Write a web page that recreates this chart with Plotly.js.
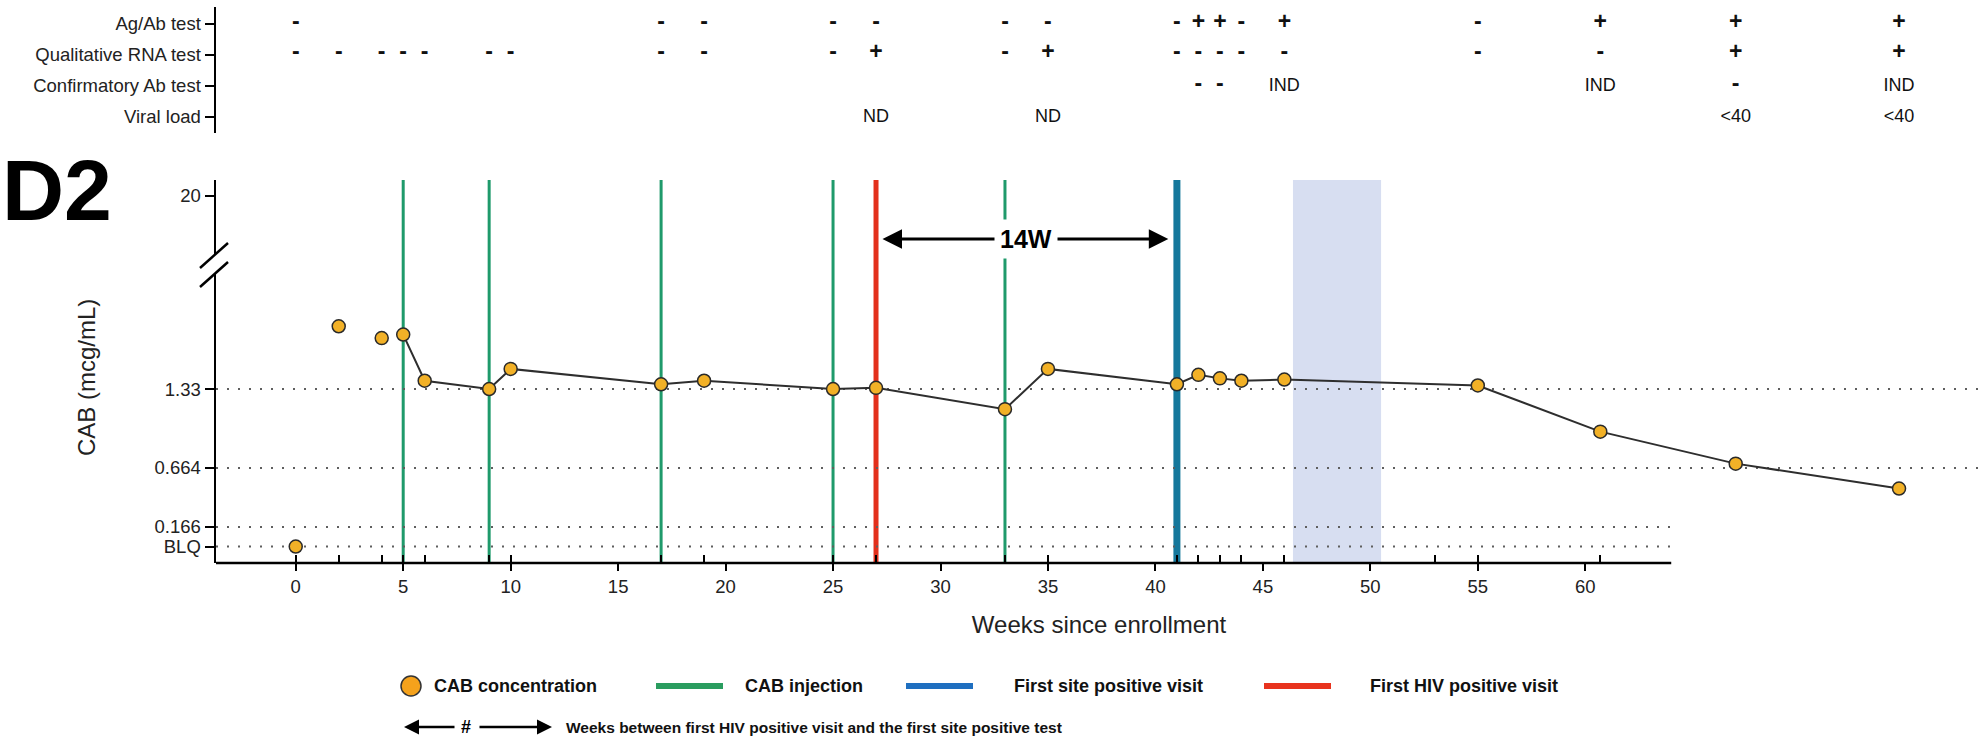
<!DOCTYPE html>
<html><head><meta charset="utf-8">
<script src="https://cdn.plot.ly/plotly-3.0.1.min.js"></script>
<style>html,body{margin:0;padding:0;background:#fff;}#chart{width:1982px;height:739px;}</style>
</head><body><div id="chart"></div>
<script>
// ---------- data ----------
const lineWeeks = [5, 6, 9, 10, 17, 19, 25, 27, 33, 35, 41, 42, 43, 44, 46, 55, 60.7, 67, 74.6];
const lineCab   = [1.79, 1.40, 1.33, 1.50, 1.37, 1.40, 1.33, 1.34, 1.16, 1.50, 1.37, 1.45, 1.42, 1.40, 1.41, 1.36, 0.97, 0.70, 0.49];
const earlyWeeks = [0, 2, 4];
const earlyCab   = [0, 1.86, 1.76];           // 0 = BLQ
const injectionWeeks = [5, 9, 17, 25, 33];
const firstHivPositiveWeek = 27;
const firstSitePositiveWeek = 41;
const gapLabel = '14W';
const shadedWeeks = [46.4, 50.5];
const visitWeeks = [0, 2, 4, 5, 6, 9, 10, 17, 19, 25, 27, 33, 35, 41, 42, 43, 44, 46, 53, 55, 60.7];
const xTickVals = [0, 5, 10, 15, 20, 25, 30, 35, 40, 45, 50, 55, 60];
const yTickVals = [0, 0.166, 0.664, 1.33];
const yTickText = ['BLQ', '0.166', '0.664', '1.33'];
const breakTickText = '20';
const longRefLevels = [1.33, 0.664];
const shortRefLevels = [0.166, 0];

const testRows = ['Ag/Ab test', 'Qualitative RNA test', 'Confirmatory Ab test', 'Viral load'];
const agAbWeeks   = [0, 17, 19, 25, 27, 33, 35, 41, 42, 43, 44, 46, 55, 60.7, 67, 74.6];
const agAbResults = ['-', '-', '-', '-', '-', '-', '-', '-', '+', '+', '-', '+', '-', '+', '+', '+'];
const rnaWeeks   = [0, 2, 4, 5, 6, 9, 10, 17, 19, 25, 27, 33, 35, 41, 42, 43, 44, 46, 55, 60.7, 67, 74.6];
const rnaResults = ['-', '-', '-', '-', '-', '-', '-', '-', '-', '-', '+', '-', '+', '-', '-', '-', '-', '-', '-', '-', '+', '+'];
const confWeeks   = [42, 43, 46, 60.7, 67, 74.6];
const confResults = ['-', '-', 'IND', 'IND', '-', 'IND'];
const vlWeeks   = [27, 35, 67, 74.6];
const vlResults = ['ND', 'ND', '&lt;40', '&lt;40'];

// ---------- layout geometry ----------
const W = 1982, H = 739;
const M = {l: 216, r: 0, t: 7, b: 176};
const plotW = W - M.l - M.r, plotH = H - M.t - M.b;
const px = x => (x - M.l) / plotW;
const py = y => (H - M.b - y) / plotH;
const xRange = [-3.71, 78.46];
const axisEndWeek = 64;
const yRange = [-0.139, 3.095];
const breakPos = 2.96;
const mainDomain = [0, py(180)];
const tableDomain = [py(133), 1];

const FONT = 'Liberation Sans, Arial, Helvetica, sans-serif';
const GREEN = '#1f9a6b', RED = '#e3301c', TEAL = '#15789c';
const MARK = {size: 13, color: '#f2b127', line: {color: '#2a2a2a', width: 1.5}};

function fmt(arr){ return arr.map(t => (t === '+' || t === '-') ? '<b><span style="font-size:23px">' + t + '</span></b>' : t); }
function tableTrace(weeks, results, row){
  return {x: weeks, y: weeks.map(() => row), text: fmt(results), mode: 'text',
    type: 'scatter', xaxis: 'x', yaxis: 'y2', textposition: 'middle center', cliponaxis: false,
    textfont: {family: FONT, size: 18, color: '#111'}, hoverinfo: 'skip', showlegend: false};
}

const traces = [
  {x: lineWeeks, y: lineCab, type: 'scatter', mode: 'lines+markers', line: {color: '#2e2e2e', width: 2},
   marker: MARK, cliponaxis: false, showlegend: false, name: 'CAB concentration'},
  {x: earlyWeeks, y: earlyCab, type: 'scatter', mode: 'markers', marker: MARK, cliponaxis: false,
   showlegend: false, name: 'CAB concentration'},
  {x: [visitWeeks[0]], y: [null], xaxis: 'x2', yaxis: 'y', type: 'scatter', mode: 'markers',
   hoverinfo: 'skip', showlegend: false},
  tableTrace(agAbWeeks, agAbResults, testRows[0]),
  tableTrace(rnaWeeks, rnaResults, testRows[1]),
  tableTrace(confWeeks, confResults, testRows[2]),
  tableTrace(vlWeeks, vlResults, testRows[3])
];

const shapes = [];
shapes.push({type: 'rect', xref: 'x', yref: 'y domain', x0: shadedWeeks[0], x1: shadedWeeks[1], y0: 0, y1: 1,
  fillcolor: '#d7def1', line: {width: 0}, layer: 'below'});
longRefLevels.forEach(v => shapes.push({type: 'line', xref: 'x', yref: 'y', x0: xRange[0], x1: xRange[1], y0: v, y1: v,
  line: {color: '#5e5e5e', width: 2, dash: '2px,9px'}, layer: 'below'}));
shortRefLevels.forEach(v => shapes.push({type: 'line', xref: 'x', yref: 'y', x0: xRange[0], x1: axisEndWeek, y0: v, y1: v,
  line: {color: '#5e5e5e', width: 2, dash: '2px,9px'}, layer: 'below'}));
injectionWeeks.forEach(w => shapes.push({type: 'line', xref: 'x', yref: 'y domain', x0: w, x1: w, y0: 0, y1: 1,
  line: {color: GREEN, width: 3}, layer: 'below'}));
shapes.push({type: 'line', xref: 'x', yref: 'y domain', x0: firstHivPositiveWeek, x1: firstHivPositiveWeek, y0: 0, y1: 1,
  line: {color: RED, width: 5}, layer: 'below'});
shapes.push({type: 'line', xref: 'x', yref: 'y domain', x0: firstSitePositiveWeek, x1: firstSitePositiveWeek, y0: 0, y1: 1,
  line: {color: TEAL, width: 7}, layer: 'below'});
// x axis line (ends at week 64)
shapes.push({type: 'line', xref: 'x', yref: 'y domain', x0: xRange[0], x1: axisEndWeek, y0: 0, y1: 0,
  line: {color: '#000', width: 2.5}, layer: 'above'});
// axis break
shapes.push({type: 'path', xref: 'paper', yref: 'paper',
  path: `M ${px(199)} ${py(268)} L ${px(229)} ${py(243)} L ${px(229)} ${py(262)} L ${px(199)} ${py(287)} Z`,
  fillcolor: '#fff', line: {width: 0}, layer: 'above'});
[[268, 243], [287, 262]].forEach(s => shapes.push({type: 'line', xref: 'paper', yref: 'paper',
  x0: px(200), y0: py(s[0]), x1: px(228), y1: py(s[1]), line: {color: '#000', width: 2.5}, layer: 'above'}));
// legend symbols
const legY = 686;
shapes.push({type: 'circle', xref: 'paper', yref: 'paper', x0: px(401), x1: px(421), y0: py(legY + 10), y1: py(legY - 10),
  fillcolor: '#f5a21c', line: {color: '#333', width: 1.5}});
[[656, 723, '#2a9d5f'], [906, 973, '#1f6fc0'], [1264, 1331, '#e8331e']].forEach(l => shapes.push({type: 'line',
  xref: 'paper', yref: 'paper', x0: px(l[0]), x1: px(l[1]), y0: py(legY), y1: py(legY), line: {color: l[2], width: 6}}));

const bold = (t) => '<b>' + t + '</b>';
const ann = [];
ann.push({text: bold('D2'), xref: 'paper', yref: 'paper', x: px(0), y: py(190), xanchor: 'left', yanchor: 'middle',
  showarrow: false, font: {family: FONT, size: 86, color: '#000'}});
// y axis title
ann.push({text: 'CAB (mcg/mL)', xref: 'paper', yref: 'paper', x: px(86), y: py(378), xanchor: 'center', yanchor: 'middle',
  textangle: -90, showarrow: false, font: {family: FONT, size: 24, color: '#222'}});
// 14W arrows
const arrYp = py(239);
const midWeek = (firstHivPositiveWeek + firstSitePositiveWeek) / 2;
ann.push({text: '', xref: 'x', yref: 'paper', x: firstHivPositiveWeek + 0.3, y: arrYp,
  axref: 'x', ax: midWeek, ay: 0, showarrow: true, arrowhead: 2, arrowsize: 1.3, arrowwidth: 3, arrowcolor: '#000'});
ann.push({text: '', xref: 'x', yref: 'paper', x: firstSitePositiveWeek - 0.4, y: arrYp,
  axref: 'x', ax: midWeek, ay: 0, showarrow: true, arrowhead: 2, arrowsize: 1.3, arrowwidth: 3, arrowcolor: '#000'});
ann.push({text: bold(gapLabel), xref: 'x', yref: 'paper', x: midWeek, y: arrYp, xanchor: 'center', yanchor: 'middle',
  showarrow: false, bgcolor: '#fff', borderpad: 5, font: {family: FONT, size: 25, color: '#000'}});
// legend texts
[[432, 'CAB concentration'], [743, 'CAB injection'], [1012, 'First site positive visit'], [1368, 'First HIV positive visit']]
  .forEach(t => ann.push({text: bold(t[1]), xref: 'paper', yref: 'paper', x: px(t[0]), y: py(legY), xanchor: 'left',
    yanchor: 'middle', showarrow: false, font: {family: FONT, size: 18, color: '#111'}}));
const noteY = 727;
ann.push({text: '', xref: 'paper', yref: 'paper', x: px(404), y: py(noteY), ax: 52, ay: 0, showarrow: true,
  arrowhead: 2, arrowsize: 1.2, arrowwidth: 2.5, arrowcolor: '#000'});
ann.push({text: '', xref: 'paper', yref: 'paper', x: px(552), y: py(noteY), ax: -74, ay: 0, showarrow: true,
  arrowhead: 2, arrowsize: 1.2, arrowwidth: 2.5, arrowcolor: '#000'});
ann.push({text: bold('#'), xref: 'paper', yref: 'paper', x: px(466), y: py(noteY), xanchor: 'center', yanchor: 'middle',
  showarrow: false, font: {family: FONT, size: 18, color: '#000'}});
ann.push({text: bold('Weeks between first HIV positive visit and the first site positive test'), xref: 'paper', yref: 'paper',
  x: px(564), y: py(noteY), xanchor: 'left', yanchor: 'middle', showarrow: false, font: {family: FONT, size: 15.5, color: '#111'}});

const layout = {
  width: W, height: H, margin: M, paper_bgcolor: '#fff', plot_bgcolor: 'rgba(0,0,0,0)',
  font: {family: FONT, color: '#111'}, showlegend: false, hovermode: false,
  xaxis: {range: xRange, anchor: 'y', tickvals: xTickVals, ticks: 'outside', ticklen: 7, tickwidth: 2, tickcolor: '#000',
    showline: false, showgrid: false, zeroline: false, tickfont: {size: 18.5, color: '#222'},
    title: {text: 'Weeks since enrollment', font: {size: 24, color: '#222'}, standoff: 19}},
  xaxis2: {range: xRange, overlaying: 'x', anchor: 'y', side: 'bottom', tickvals: visitWeeks, ticks: 'inside', ticklen: 8,
    tickwidth: 2, tickcolor: '#000', showticklabels: false, showgrid: false, zeroline: false, showline: false},
  yaxis: {domain: mainDomain, range: yRange, anchor: 'x', tickvals: yTickVals.concat([breakPos]),
    ticktext: yTickText.concat([breakTickText]), ticks: 'outside', ticklen: 9, tickwidth: 2, tickcolor: '#000',
    showline: true, linewidth: 2.5, linecolor: '#000', showgrid: false, zeroline: false, tickfont: {size: 18.5, color: '#222'}},
  yaxis2: {domain: tableDomain, type: 'category', categoryorder: 'array', categoryarray: testRows.slice().reverse(),
    range: [-0.516, 3.548], anchor: 'x', ticks: 'outside', ticklen: 9, tickwidth: 2, tickcolor: '#000',
    showline: true, linewidth: 2.5, linecolor: '#000', showgrid: false, zeroline: false, tickfont: {size: 18.5, color: '#222'}},
  shapes: shapes, annotations: ann
};
Plotly.newPlot('chart', traces, layout, {staticPlot: true, displayModeBar: false});
</script></body></html>
